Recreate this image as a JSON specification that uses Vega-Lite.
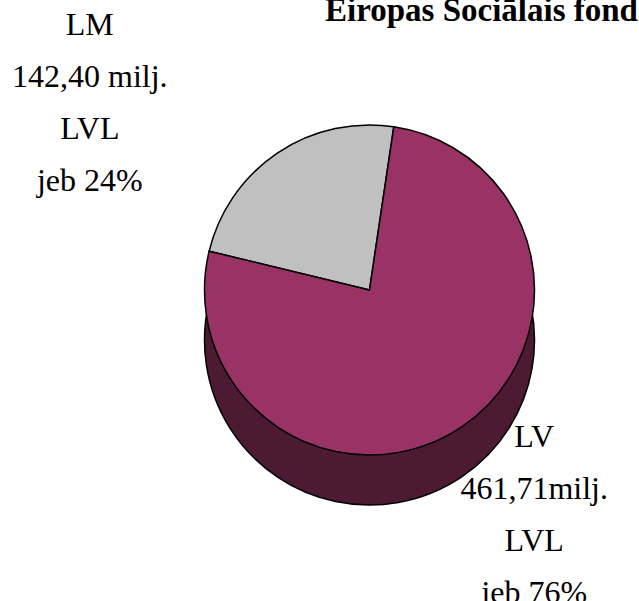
{
  "$schema": "https://vega.github.io/schema/vega-lite/v6.json",
  "autosize": "none",
  "width": 539,
  "height": 520,
  "padding": {"top": 30, "left": 100, "right": 0, "bottom": 51},
  "background": "white",
  "title": {
    "text": "Eiropas Sociālais fonds",
    "anchor": "start",
    "frame": "group",
    "dx": 225,
    "dy": 47,
    "offset": 0,
    "baseline": "alphabetic",
    "font": "Times New Roman",
    "fontSize": 33,
    "fontWeight": "bold",
    "color": "black"
  },
  "data": {
    "values": [
      {"cat": "LM", "value": 142.40, "label": ["LM", "142,40 milj.", "LVL", "jeb 24%"]},
      {"cat": "LV", "value": 461.71, "label": ["LV", "461,71milj.", "LVL", "jeb 76%"]}
    ]
  },
  "encoding": {
    "theta": {"field": "value", "type": "quantitative", "stack": true, "scale": {"range": [-1.3334, 4.9498]}},
    "order": {"field": "cat", "sort": "ascending"}
  },
  "layer": [
    {
      "mark": {"type": "arc", "outerRadius": 165, "yOffset": 50, "stroke": "black", "strokeWidth": 1.5},
      "encoding": {
        "color": {"condition": {"test": "datum.cat === 'LV'", "value": "#4D1A33"}, "value": "#7F7F7F"}
      }
    },
    {
      "mark": {"type": "arc", "outerRadius": 165, "stroke": "black", "strokeWidth": 1.5},
      "encoding": {
        "color": {"field": "cat", "type": "nominal", "scale": {"domain": ["LM", "LV"], "range": ["#C0C0C0", "#993366"]}, "legend": null}
      }
    },
    {
      "mark": {"type": "text", "radius": 250, "dx": -140, "dy": -58, "font": "Times New Roman", "fontSize": 32, "lineHeight": 52, "align": "center", "baseline": "middle", "color": "black"},
      "encoding": {
        "text": {"condition": {"test": "datum.cat === 'LM'", "field": "label"}, "value": ""}
      }
    },
    {
      "mark": {"type": "text", "radius": 250, "dx": 25, "dy": -60, "font": "Times New Roman", "fontSize": 32, "lineHeight": 52, "align": "center", "baseline": "middle", "color": "black"},
      "encoding": {
        "text": {"condition": {"test": "datum.cat === 'LV'", "field": "label"}, "value": ""}
      }
    }
  ]
}
